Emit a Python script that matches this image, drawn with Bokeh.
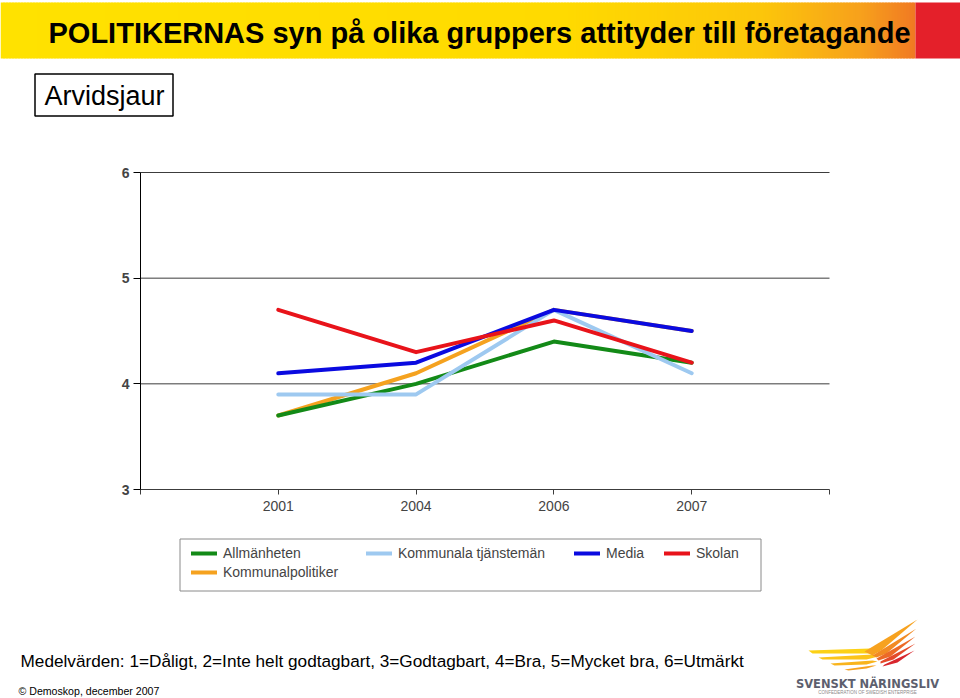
from bokeh.plotting import figure
from bokeh.models import Range1d, FixedTicker, Legend, LegendItem, LinearAxis
from bokeh.core.properties import value
from bokeh.embed import file_html
from bokeh.resources import INLINE

FONT = value("Liberation Sans")
FONT_S = "Liberation Sans"

# ---- data ----
years = ["2001", "2004", "2006", "2007"]
xpos = [1, 2, 3, 4]
allmanheten = [3.7, 4.0, 4.4, 4.2]
kommunala_tjansteman = [3.9, 3.9, 4.7, 4.1]
media = [4.1, 4.2, 4.7, 4.5]
skolan = [4.7, 4.3, 4.6, 4.2]
kommunalpolitiker = [3.7, 4.1, 4.7, 4.5]
y_ticks = [3, 4, 5, 6]
x_ticks = [0, 1, 2, 3, 4, 5]

title_text = "POLITIKERNAS syn på olika gruppers attityder till företagande"
subtitle_text = "Arvidsjaur"
note_text = "Medelvärden: 1=Dåligt, 2=Inte helt godtagbart, 3=Godtagbart, 4=Bra, 5=Mycket bra, 6=Utmärkt"
source_text = "© Demoskop, december 2007"

W, H = 960, 698
# chart area in page pixels (x from left, y from top)
FX0, FX1, FY_TOP, FY_BOT = 140, 829, 172, 489
XPU = (FX1 - FX0) / (x_ticks[-1] - x_ticks[0])
YPU = (FY_BOT - FY_TOP) / (y_ticks[-1] - y_ticks[0])


def dx(px):
    return x_ticks[0] + (px - FX0) / XPU


def dy(py):
    return y_ticks[0] + (FY_BOT - py) / YPU


p = figure(width=W, height=H, x_range=Range1d(dx(0), dx(W)), y_range=Range1d(dy(H), dy(0)),
           output_backend="svg", toolbar_location=None, min_border=0,
           x_axis_location=None, y_axis_location=None)
p.outline_line_color = None
p.grid.visible = False

# ---- header banner ----


def lerp(c1, c2, t):
    return tuple(int(round(a + (b - a) * t)) for a, b in zip(c1, c2))


stops = [(0, (255, 226, 0)), (560, (255, 218, 0)), (760, (252, 198, 10)),
         (860, (247, 160, 28)), (915, (240, 120, 35))]
lefts, rights, cols = [], [], []
for x0 in range(0, 915, 3):
    for (a, ca), (b, cb) in zip(stops[:-1], stops[1:]):
        if a <= x0 <= b:
            c = lerp(ca, cb, (x0 - a) / (b - a))
            break
    lefts.append(dx(x0))
    rights.append(dx(min(x0 + 4, 915)))
    cols.append("#%02x%02x%02x" % c)
p.quad(left=lefts, right=rights, top=dy(2), bottom=dy(58), fill_color=cols, line_color=None)
p.quad(left=[dx(915)], right=[dx(960)], top=[dy(2)], bottom=[dy(58)], fill_color="#e4202a",
       line_color=None)
p.text(x=[dx(48)], y=[dy(32)], text=[title_text], text_baseline="middle", text_align="left",
       text_font=FONT, text_font_style="bold", text_font_size="29px", text_color="black")
p.quad(left=[dx(34.5)], right=[dx(172.5)], top=[dy(73.5)], bottom=[dy(115.5)],
       fill_color="white", line_color="black", line_width=1.5)
p.text(x=[dx(44)], y=[dy(95)], text=[subtitle_text], text_baseline="middle", text_align="left",
       text_font=FONT, text_font_size="27px", text_color="black")

# ---- chart grid & axes ----
grid_vals = y_ticks[1:]
p.segment(x0=[x_ticks[0]] * len(grid_vals), x1=[x_ticks[-1]] * len(grid_vals),
          y0=grid_vals, y1=grid_vals, line_color="#3c3c3c", line_width=1)

yax = LinearAxis(fixed_location=x_ticks[0], bounds=(y_ticks[0], y_ticks[-1]),
                 ticker=FixedTicker(ticks=y_ticks))
yax.minor_tick_line_color = None
yax.major_tick_in = 0
yax.major_tick_out = 7
yax.axis_line_color = "black"
yax.major_label_text_font = FONT_S
yax.major_label_text_font_style = "bold"
yax.major_label_text_font_size = "14px"
yax.major_label_standoff = 4
p.add_layout(yax, "left")

xax = LinearAxis(fixed_location=y_ticks[0], bounds=(x_ticks[0], x_ticks[-1]),
                 ticker=FixedTicker(ticks=x_ticks))
xax.major_label_overrides = {0: "", 1: years[0], 2: years[1], 3: years[2], 4: years[3], 5: ""}
xax.minor_tick_line_color = None
xax.major_tick_in = 0
xax.major_tick_out = 5
xax.axis_line_color = "#3c3c3c"
xax.major_tick_line_color = "#3c3c3c"
xax.major_label_text_font = FONT_S
xax.major_label_text_font_size = "14px"
xax.major_label_standoff = 6
p.add_layout(xax, "below")

# ---- series ----
series = {
    "Kommunalpolitiker": (kommunalpolitiker, "#f5a21f"),
    "Allmänheten": (allmanheten, "#138a17"),
    "Kommunala tjänstemän": (kommunala_tjansteman, "#9ec9f0"),
    "Media": (media, "#0a0ae0"),
    "Skolan": (skolan, "#e8131a"),
}
renderers = {}
for name, (vals, color) in series.items():
    renderers[name] = p.line(xpos, vals, line_color=color, line_width=4, line_cap="round",
                             line_join="round")

# ---- legend ----
p.quad(left=[dx(179.5)], right=[dx(760.5)], top=[dy(538.5)], bottom=[dy(590.5)],
       fill_color="white", line_color="#8a8a8a", line_width=1)

legend_cols = [
    (["Allmänheten", "Kommunalpolitiker"], 191),
    (["Kommunala tjänstemän"], 366),
    (["Media"], 574),
    (["Skolan"], 664),
]
ROW_H, ROW_GAP, ROW_TOP = 18, 1, 544
for names, px in legend_cols:
    rows = len(names)
    bottom_px = ROW_TOP + rows * ROW_H + (rows - 1) * ROW_GAP
    lg = Legend(items=[LegendItem(label=n, renderers=[renderers[n]]) for n in names],
                location=(px, H - bottom_px), orientation="vertical",
                label_text_font=FONT_S, label_text_font_size="14px", label_height=ROW_H,
                glyph_width=26, glyph_height=ROW_H, label_standoff=6, spacing=ROW_GAP,
                padding=0, border_line_color=None, background_fill_alpha=0, margin=0)
    p.add_layout(lg, "center")

# ---- footer ----
p.text(x=[dx(20)], y=[dy(660)], text=[note_text], text_baseline="middle", text_align="left",
       text_font=FONT, text_font_size="17.2px", text_color="black")
p.text(x=[dx(18)], y=[dy(690)], text=[source_text], text_baseline="middle", text_align="left",
       text_font=FONT, text_font_size="10.6px", text_color="black")

# logo wings (decorative)
wing_px = [
    [(808, 650), (870, 648), (880, 651), (868, 653), (812, 653)],
    [(818, 657), (872, 654), (878, 656), (866, 659), (822, 659)],
    [(830, 663), (872, 660), (877, 661), (866, 664), (834, 665)],
    [(844, 669), (872, 665), (876, 665), (866, 668), (848, 670)],
    [(864, 651), (917, 619), (882, 649), (872, 655)],
    [(872, 655), (916, 628), (886, 653), (876, 657)],
    [(876, 658), (915, 636), (890, 656), (878, 660)],
    [(880, 661), (915, 643), (893, 659), (880, 663)],
    [(884, 664), (914, 650), (897, 662), (882, 666)],
]
wing_cols = ["#fcd116", "#fcc419", "#f9b41c", "#f7a21f",
             "#f7a21f", "#f28a23", "#ec6a27", "#e44a2a", "#d8262d"]
p.patches([[dx(a) for a, b in poly] for poly in wing_px],
          [[dy(b) for a, b in poly] for poly in wing_px],
          fill_color=wing_cols, line_color=None)
p.text(x=[dx(867)], y=[dy(683)], text=["SVENSKT NÄRINGSLIV"], text_baseline="middle",
       text_align="center", text_font=value("DejaVu Sans"), text_font_style="bold",
       text_font_size="11.5px", text_color="#5d5f6e")
p.text(x=[dx(867)], y=[dy(692)], text=["CONFEDERATION OF SWEDISH ENTERPRISE"],
       text_baseline="middle", text_align="center", text_font=FONT, text_font_size="4.5px",
       text_color="#8a8a8a")

open("out.html", "w").write(file_html(p, INLINE))
